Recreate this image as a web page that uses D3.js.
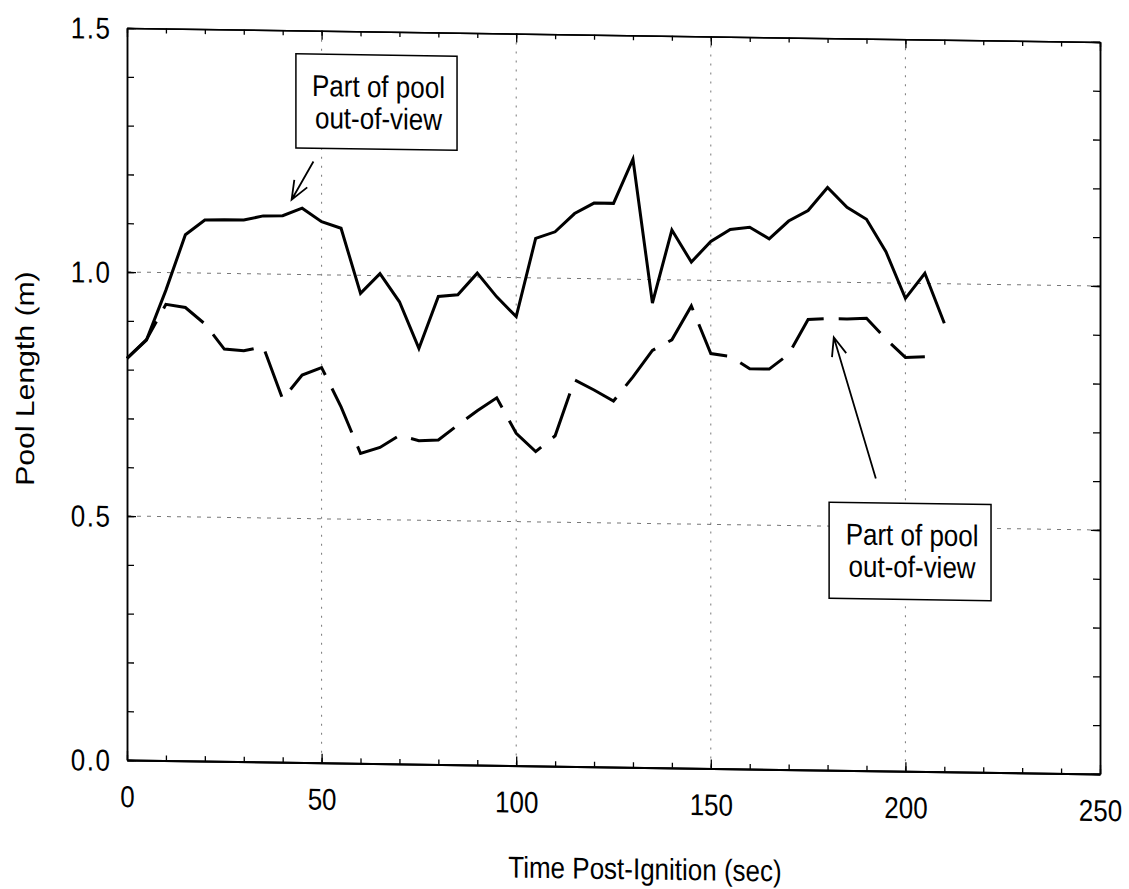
<!DOCTYPE html>
<html>
<head>
<meta charset="utf-8">
<script src="https://cdn.jsdelivr.net/npm/d3@7"></script>
<style>
  body { margin: 0; background: #fff; }
  svg text { font-family: "Liberation Sans", Arial, sans-serif; fill: #000; }
</style>
</head>
<body>
<svg id="chart"></svg>
<script>
// pool length, one reading every 5 s
const solidTimes = [0, 5, 10, 15, 20, 25, 30, 35, 40, 45, 50, 55, 60, 65, 70, 75, 80, 85, 90, 95,
    100, 105, 110, 115, 120, 125, 130, 135, 140, 145, 150, 155, 160, 165, 170, 175, 180, 185, 190, 195,
    200, 205, 210];
const solidLength = [0.823, 0.861, 0.964, 1.078, 1.109, 1.110, 1.110, 1.119, 1.120, 1.136, 1.109, 1.096,
    0.963, 1.004, 0.947, 0.852, 0.959, 0.963, 1.008, 0.960, 0.920, 1.081, 1.095, 1.133, 1.155, 1.155,
    1.246, 0.952, 1.102, 1.037, 1.080, 1.105, 1.110, 1.087, 1.124, 1.146, 1.194, 1.154, 1.130, 1.064,
    0.969, 1.021, 0.919];

const dashedTimes = [0, 5, 10, 15, 20, 25, 30, 35, 40, 45, 50, 55, 60, 65, 70, 75, 80, 85, 90, 95,
    100, 105, 110, 115, 120, 125, 130, 135, 140, 145, 150, 155, 160, 165, 170, 175, 180, 185, 190, 195,
    200, 205];
const dashedLength = [0.823, 0.862, 0.935, 0.929, 0.896, 0.845, 0.842, 0.851, 0.744, 0.794, 0.810, 0.730,
    0.635, 0.648, 0.673, 0.663, 0.665, 0.696, 0.726, 0.753, 0.681, 0.644, 0.677, 0.792, 0.772, 0.750,
    0.800, 0.855, 0.877, 0.947, 0.850, 0.845, 0.820, 0.820, 0.851, 0.923, 0.925, 0.925, 0.927, 0.885,
    0.848, 0.850];

const xTickLabels = ["0", "50", "100", "150", "200", "250"];
const yTickLabels = ["0.0", "0.5", "1.0", "1.5"];
const noteLines = ["Part of pool", "out-of-view"];

const width = 1129;
const height = 889;
const plotLeft = 127, plotRight = 1100, plotTop = 28, plotBottom = 760;
const shear = 0.0144;   // the scan runs slightly downhill to the right
const stretch = 1.16;   // and is a little taller than wide

const svg = d3.select('#chart')
    .attr('width', width)
    .attr('height', height);

const g = svg.append('g')
    .attr('transform', `matrix(1,${shear},0,1,0,${-shear * plotLeft})`);

const x = d3.scaleLinear().domain([0, 250]).range([plotLeft, plotRight]);
const y = d3.scaleLinear().domain([0, 1.5]).range([plotBottom, plotTop]);

// grid
g.append('g').selectAll('line')
    .data(x.ticks(5).slice(1, -1))
    .join('line')
    .attr('x1', d => x(d)).attr('x2', d => x(d))
    .attr('y1', plotTop).attr('y2', plotBottom)
    .attr('stroke', '#777').attr('stroke-width', 1).attr('stroke-dasharray', '2,7');

g.append('g').selectAll('line')
    .data(y.ticks(3).slice(1, -1))
    .join('line')
    .attr('x1', plotLeft).attr('x2', plotRight)
    .attr('y1', d => y(d)).attr('y2', d => y(d))
    .attr('stroke', '#777').attr('stroke-width', 1).attr('stroke-dasharray', '4,6');

function styleAxis(sel, w) {
    sel.attr('font-size', 26).attr('font-family', '"Liberation Sans", Arial, sans-serif');
    sel.select('.domain').attr('stroke-width', w);
    sel.selectAll('.tick line').attr('stroke-width', 1.3);
}

// minor ticks
g.append('g').attr('transform', `translate(0,${plotBottom})`)
    .call(d3.axisBottom(x).ticks(25).tickSize(-5).tickSizeOuter(0).tickFormat(''))
    .call(styleAxis, 2);
g.append('g').attr('transform', `translate(0,${plotTop})`)
    .call(d3.axisTop(x).ticks(25).tickSize(-5).tickSizeOuter(0).tickFormat(''))
    .call(styleAxis, 1.5);
g.append('g').attr('transform', `translate(${plotLeft},0)`)
    .call(d3.axisLeft(y).ticks(15).tickSize(-7).tickSizeOuter(0).tickFormat(''))
    .call(styleAxis, 1.5);
g.append('g').attr('transform', `translate(${plotRight},0)`)
    .call(d3.axisRight(y).ticks(15).tickSize(-7).tickSizeOuter(0).tickFormat(''))
    .call(styleAxis, 1.5);

// major ticks with labels
const xAxis = g.append('g').attr('transform', `translate(0,${plotBottom})`)
    .call(d3.axisBottom(x).ticks(5).tickSize(-9).tickSizeOuter(0).tickFormat((d, i) => xTickLabels[i]))
    .call(styleAxis, 2);
xAxis.selectAll('.tick text')
    .attr('y', null).attr('dy', null)
    .attr('transform', `translate(0,47) scale(1,${stretch})`);

g.append('g').attr('transform', `translate(0,${plotTop})`)
    .call(d3.axisTop(x).ticks(5).tickSize(-9).tickSizeOuter(0).tickFormat(''))
    .call(styleAxis, 1.5);

const yAxis = g.append('g').attr('transform', `translate(${plotLeft},0)`)
    .call(d3.axisLeft(y).ticks(3).tickSize(-9).tickSizeOuter(0).tickFormat((d, i) => yTickLabels[i]))
    .call(styleAxis, 1.5);
yAxis.selectAll('.tick text')
    .attr('x', null).attr('dy', null)
    .attr('letter-spacing', 1.5)
    .attr('transform', `translate(${110 - plotLeft + 1.5},10.5) scale(1,${stretch})`);

g.append('g').attr('transform', `translate(${plotRight},0)`)
    .call(d3.axisRight(y).ticks(3).tickSize(-9).tickSizeOuter(0).tickFormat(''))
    .call(styleAxis, 1.5);

// axis titles
g.append('text')
    .attr('text-anchor', 'middle')
    .attr('font-size', 26)
    .attr('transform', `translate(645,872) scale(1,${stretch})`)
    .text('Time Post-Ignition (sec)');

g.append('text')
    .attr('text-anchor', 'middle')
    .attr('font-size', 26)
    .attr('transform', `translate(34,380) scale(1,${stretch}) rotate(-90)`)
    .text('Pool Length (m)');

// series
const line = d3.line()
    .x(d => x(d[0]))
    .y(d => y(d[1]));

g.append('path')
    .datum(solidTimes.map((t, i) => [t, solidLength[i]]))
    .attr('d', line)
    .attr('fill', 'none')
    .attr('stroke', '#000')
    .attr('stroke-width', 3)
    .attr('stroke-linejoin', 'miter');

g.append('path')
    .datum(dashedTimes.map((t, i) => [t, dashedLength[i]]))
    .attr('d', line)
    .attr('fill', 'none')
    .attr('stroke', '#000')
    .attr('stroke-width', 3)
    .attr('stroke-dasharray', '48,15');

// call-out boxes, placed in data units
const notes = [
    { x0: 43.4, x1: 84.8, y0: 1.452, y1: 1.259, tail: [47.9, 1.232], tip: [42.3, 1.153] },
    { x0: 180.4, x1: 222.0, y0: 0.549, y1: 0.352, tail: [192.4, 0.599], tip: [181.6, 0.887] }
];

notes.forEach(n => {
    const bx = x(n.x0), by = y(n.y0);
    const bw = x(n.x1) - bx, bh = y(n.y1) - by;
    g.append('rect')
        .attr('x', bx).attr('y', by)
        .attr('width', bw).attr('height', bh)
        .attr('fill', '#fff')
        .attr('stroke', '#000')
        .attr('stroke-width', 1.5);

    noteLines.forEach((s, i) => {
        g.append('text')
            .attr('text-anchor', 'middle')
            .attr('font-size', 26)
            .attr('transform', `translate(${bx + bw / 2 + 2},${by + 42 + i * 32}) scale(1,${stretch})`)
            .text(s);
    });

    const tx = x(n.tail[0]), ty = y(n.tail[1]);
    const px = x(n.tip[0]), py = y(n.tip[1]);
    const ang = Math.atan2(py - ty, px - tx);
    const len = 20, spread = 0.38;
    const head = [ang + Math.PI - spread, ang + Math.PI + spread]
        .map(a => [px + len * Math.cos(a), py + len * Math.sin(a)]);

    g.append('path')
        .attr('d', `M${tx},${ty}L${px},${py}M${head[0][0]},${head[0][1]}L${px},${py}L${head[1][0]},${head[1][1]}`)
        .attr('fill', 'none')
        .attr('stroke', '#000')
        .attr('stroke-width', 1.8);
});
</script>
</body>
</html>
